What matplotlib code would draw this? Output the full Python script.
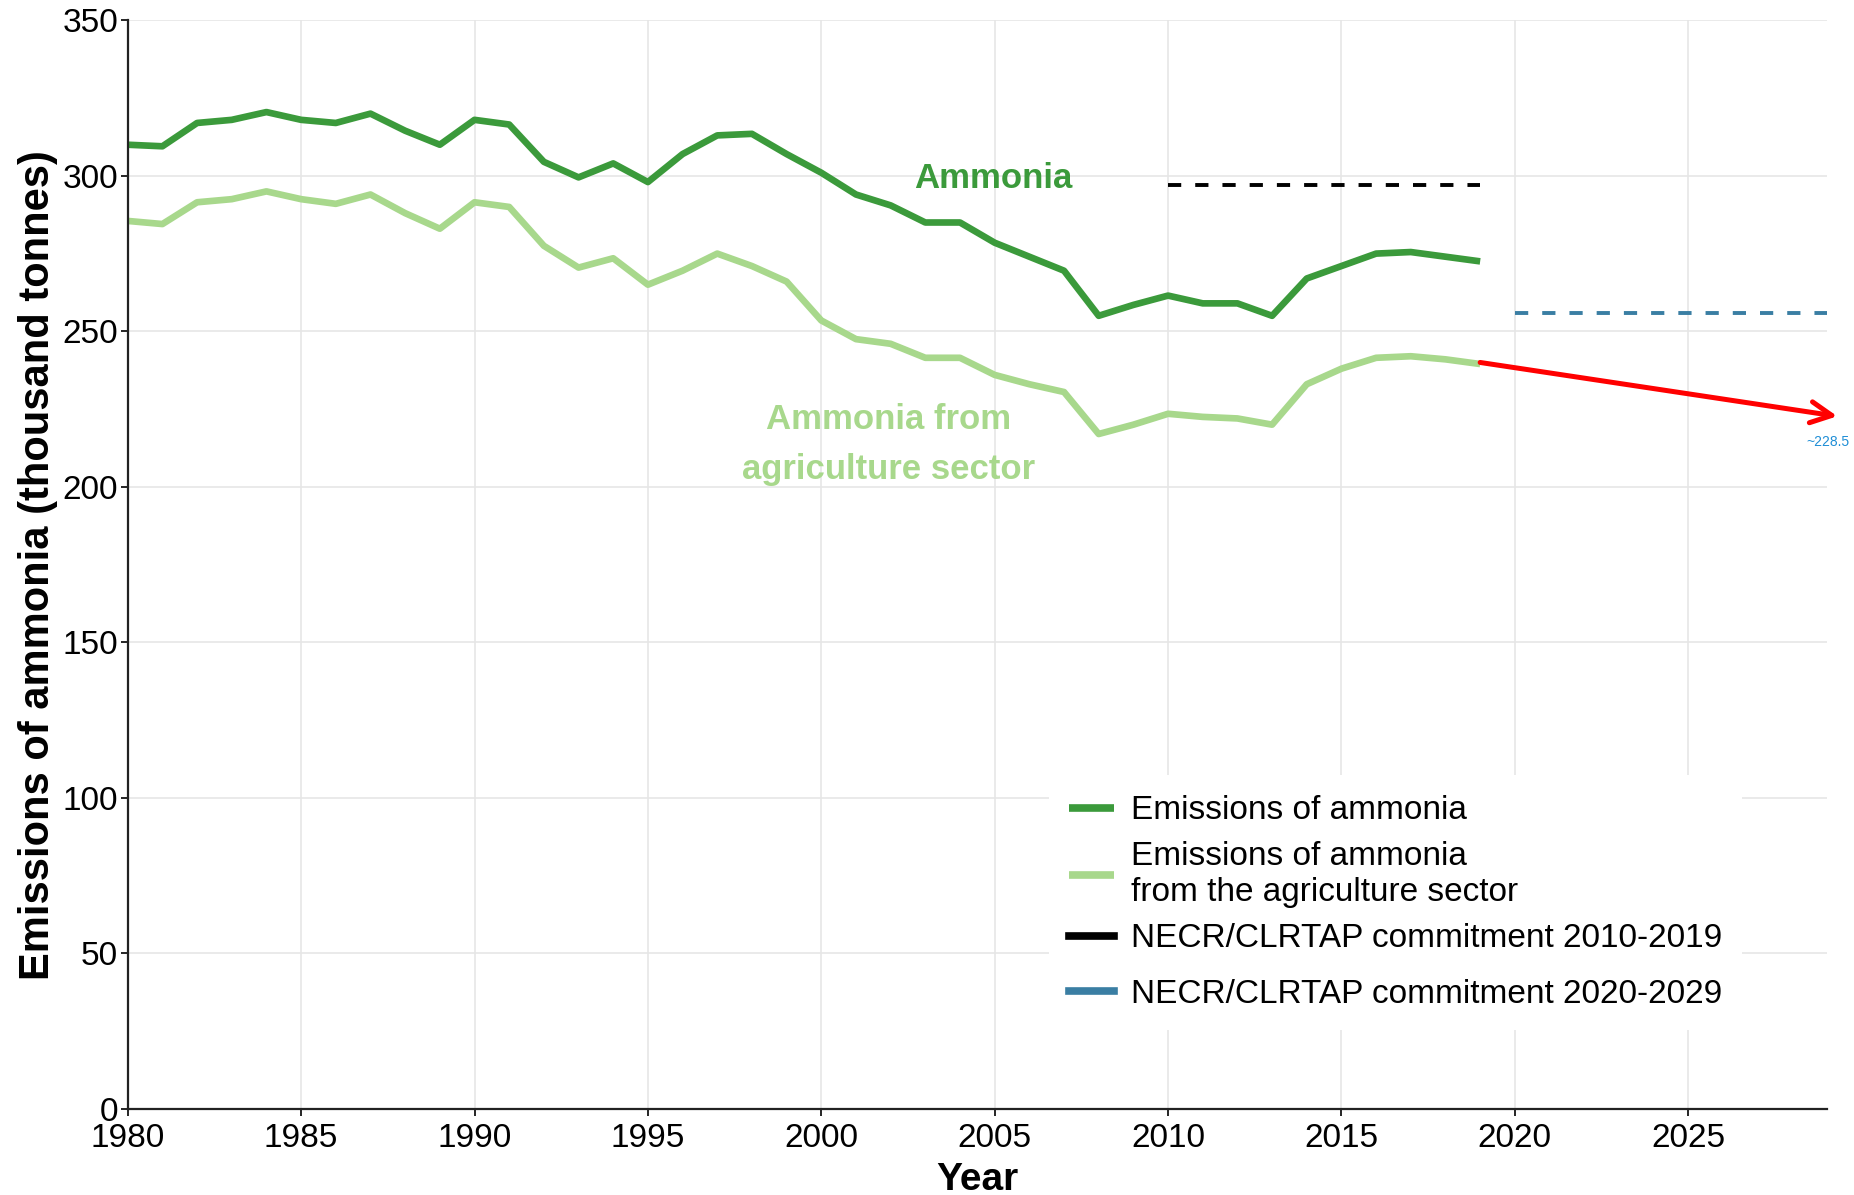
import matplotlib.pyplot as plt

plt.rcParams['font.family'] = ['Liberation Sans', 'DejaVu Sans']

# -------- Data --------
years = list(range(1980, 2020))
ammonia_total = [310, 309.5, 317, 318, 320.5, 318, 317, 320, 314.5, 310,
                 318, 316.5, 304.5, 299.5, 304, 298, 307, 313, 313.5, 307,
                 301, 294, 290.5, 285, 285, 278.5, 274, 269.5, 255, 258.5,
                 261.5, 259, 259, 255, 267, 271, 275, 275.5, 274, 272.5]
ammonia_agri = [285.5, 284.5, 291.5, 292.5, 295, 292.5, 291, 294, 288, 283,
                291.5, 290, 277.5, 270.5, 273.5, 265, 269.5, 275, 271, 266,
                253.5, 247.5, 246, 241.5, 241.5, 236, 233, 230.5, 217, 220,
                223.5, 222.5, 222, 220, 233, 238, 241.5, 242, 241, 239.5]

commit_2010 = (2010, 2019, 297)
commit_2020 = (2020, 2029, 256)

trend_start = (2019, 240)
trend_end = (2029.3, 222.7)
trend_label = "~228.5"

legend_labels = ["Emissions of ammonia",
                 "Emissions of ammonia\nfrom the agriculture sector",
                 "NECR/CLRTAP commitment 2010-2019",
                 "NECR/CLRTAP commitment 2020-2029"]

dark_green = '#3b9a3b'
light_green = '#a8d88c'
blue = '#3a7ea3'

fig = plt.figure(figsize=(18.54, 11.95), dpi=100)
ax = fig.add_axes([0.0689, 0.072, 0.9165, 0.911])

l1, = ax.plot(years, ammonia_total, color=dark_green, lw=4.8, solid_capstyle='butt')
l2, = ax.plot(years, ammonia_agri, color=light_green, lw=4.8, solid_capstyle='butt')
l3, = ax.plot([commit_2010[0], commit_2010[1]], [commit_2010[2]] * 2,
              color='black', lw=2.8, dashes=(3.4, 3.6))
l4, = ax.plot([commit_2020[0], commit_2020[1]], [commit_2020[2]] * 2,
              color=blue, lw=2.8, dashes=(3.4, 3.6))

# trend arrow
ax.annotate('', xy=trend_end, xytext=trend_start,
            arrowprops=dict(arrowstyle='->', color='red', lw=3.6,
                            mutation_scale=38, shrinkA=0, shrinkB=0),
            annotation_clip=False)
ax.text(2028.4, 214.4, trend_label, color='#1f8ed6', fontsize=10,
        ha='left', va='center', clip_on=False)

# inline labels
ax.text(2004.95, 299.3, "Ammonia", color=dark_green, fontsize=25,
        fontweight='bold', ha='center', va='center')
ax.text(2001.95, 213.5, "Ammonia from\nagriculture sector", color=light_green,
        fontsize=25, fontweight='bold', ha='center', va='center',
        linespacing=1.65)

ax.set_xlim(1980, 2029)
ax.set_ylim(0, 350)
ax.set_xticks(range(1980, 2030, 5))
ax.set_yticks(range(0, 351, 50))
ax.grid(True, color='#e6e6e6', lw=1.2)
ax.set_axisbelow(True)
for s in ['top', 'right']:
    ax.spines[s].set_visible(False)
for s in ['left', 'bottom']:
    ax.spines[s].set_linewidth(1.6)
    ax.spines[s].set_color('#222222')
ax.tick_params(labelsize=24, length=5, width=1.2, pad=2)
ax.tick_params(axis='x', pad=5)

ax.set_xlabel("Year", fontsize=28, fontweight='bold', labelpad=6)
ax.set_ylabel("Emissions of ammonia (thousand tonnes)", fontsize=30,
              fontweight='bold', labelpad=3)

leg_kw = dict(loc='upper left', bbox_transform=fig.transFigure, fontsize=24,
              frameon=True, facecolor='white', edgecolor='none', framealpha=1,
              handlelength=1.35, handletextpad=0.5, labelspacing=0.45,
              borderpad=0.6)
leg1 = ax.legend([l1, l2, l3], legend_labels[:3],
                 bbox_to_anchor=(0.557, 0.365), **leg_kw)
ax.add_artist(leg1)
leg1.set_zorder(6)
leg2 = ax.legend([l4], legend_labels[3:],
                 bbox_to_anchor=(0.557, 0.2117), **leg_kw)
for leg in (leg1, leg2):
    for h in leg.get_lines():
        h.set_linewidth(5.5)
        h.set_linestyle('-')

fig.savefig('out.png', dpi=100)
